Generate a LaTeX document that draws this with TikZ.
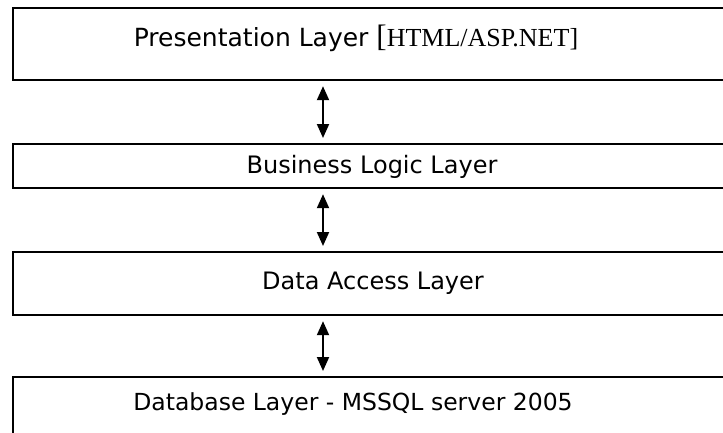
\documentclass[tikz,border=0pt]{standalone}
\usepackage{fontspec}
\setmainfont{DejaVu Sans}
\newfontfamily\serifx{Liberation Serif}
\usetikzlibrary{arrows.meta}
\begin{document}
\begin{tikzpicture}[x=1pt,y=-1pt,
  layer/.style={draw,line width=2.2pt,minimum width=723pt,anchor=north west,inner sep=0pt},
  lbl/.style={inner sep=0pt,font=\fontsize{24}{28}\selectfont},
  link/.style={line width=2pt,{Triangle[width=12pt,length=14pt]}-{Triangle[width=12pt,length=14pt]},shorten <=5pt,shorten >=5pt}]
\useasboundingbox (0,0) rectangle (723,432);
% layer boxes
\node[layer,minimum height=72pt] (b1) at (12,7) {};
\node[layer,minimum height=44pt] (b2) at (12,143) {};
\node[layer,minimum height=63pt] (b3) at (12,251) {};
\node[layer,minimum height=80pt] (b4) at (12,376) {};
% labels
\node[lbl,font=\fontsize{25}{29}\selectfont] (t1) at (356,38) {Presentation Layer {\serifx\fontsize{31}{33}\selectfont[\fontsize{26}{29}\selectfont HTML/ASP.NET]}};
\node[lbl] (t2) at (372,167) {Business Logic Layer};
\node[lbl] (t3) at (373,283) {Data Access Layer};
\node[lbl,font=\fontsize{23.5}{27}\selectfont] (t4) at (353,404) {Database Layer - MSSQL server 2005};
% connectors
\coordinate (ax) at (323,0);
\draw[link] (b1.south -| ax) -- (b2.north -| ax);
\draw[link] (b2.south -| ax) -- (b3.north -| ax);
\draw[link] (b3.south -| ax) -- (b4.north -| ax);
\end{tikzpicture}
\end{document}
